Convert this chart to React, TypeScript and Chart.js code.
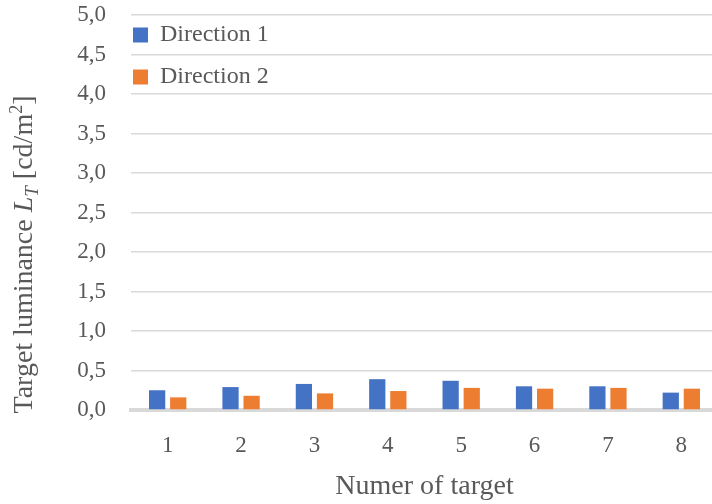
import { useEffect, useRef } from 'react';
import { Chart, registerables } from 'chart.js';

Chart.register(...registerables);

// Target numbers along the x axis
const categories = ['1', '2', '3', '4', '5', '6', '7', '8'];
// Target luminance per direction [cd/m²]
const direction1 = [0.25, 0.29, 0.33, 0.39, 0.37, 0.3, 0.3, 0.22];
const direction2 = [0.16, 0.18, 0.21, 0.24, 0.28, 0.27, 0.28, 0.27];
// Y tick labels (decimal comma)
const yTickLabels = ['0,0', '0,5', '1,0', '1,5', '2,0', '2,5', '3,0', '3,5', '4,0', '4,5', '5,0'];

const FONT = "'Liberation Serif', serif";
const TEXT = '#595959';
const GRID = '#D9D9D9';

// Pieces of the rotated y-axis title, with italic / sub / superscript styling
const yTitleParts = [
  { text: 'Target luminance ', italic: false, scale: 1, shift: 0 },
  { text: 'L', italic: true, scale: 1, shift: 0 },
  { text: 'T', italic: true, scale: 0.68, shift: 0.2 },
  { text: ' [cd/m', italic: false, scale: 1, shift: 0 },
  { text: '2', italic: false, scale: 0.66, shift: -0.36 },
  { text: ']', italic: false, scale: 1, shift: 0 },
];

const yTitlePlugin = {
  id: 'yTitle',
  afterDraw(chart: any) {
    const { ctx, chartArea } = chart;
    const size = 28;
    const fontOf = (p: any) => `${p.italic ? 'italic ' : ''}${Math.round(size * p.scale)}px ${FONT}`;
    let total = 0;
    ctx.save();
    for (const p of yTitleParts) {
      ctx.font = fontOf(p);
      total += ctx.measureText(p.text).width;
    }
    const cx = chartArea.left - 99;
    const cy = (chartArea.top + chartArea.bottom) / 2 + 42;
    ctx.translate(cx, cy);
    ctx.rotate(-Math.PI / 2);
    ctx.fillStyle = TEXT;
    ctx.textBaseline = 'alphabetic';
    ctx.textAlign = 'left';
    let x = -total / 2;
    for (const p of yTitleParts) {
      ctx.font = fontOf(p);
      ctx.fillText(p.text, x, p.shift * size);
      x += ctx.measureText(p.text).width;
    }
    ctx.restore();
  },
};

// Places the vertical legend in the upper-left corner of the plot area
const legendPlacePlugin = {
  id: 'legendPlace',
  afterLayout(chart: any) {
    const lg = chart.legend;
    const a = chart.chartArea;
    if (lg) {
      lg.left = a.left - 16;
      lg.top = a.top - 10;
    }
  },
};

export default function App() {
  const ref = useRef<HTMLCanvasElement | null>(null);

  useEffect(() => {
    if (!ref.current) return;
    const chart = new Chart(ref.current, {
      type: 'bar',
      data: {
        labels: categories,
        datasets: [
          {
            label: 'Direction 1',
            data: direction1,
            backgroundColor: '#4472C4',
            borderWidth: 0,
            categoryPercentage: 0.575,
            barPercentage: 0.77,
          },
          {
            label: 'Direction 2',
            data: direction2,
            backgroundColor: '#ED7D31',
            borderWidth: 0,
            categoryPercentage: 0.575,
            barPercentage: 0.77,
          },
        ],
      },
      options: {
        responsive: false,
        animation: false,
        layout: { padding: { top: 15, left: 0, right: 0, bottom: 0 } },
        plugins: {
          legend: {
            position: 'chartArea' as any,
            align: 'start',
            labels: {
              boxWidth: 15,
              boxHeight: 15,
              padding: 18,
              color: TEXT,
              font: { family: FONT, size: 24 },
            },
          },
          tooltip: { enabled: false },
          title: { display: false },
        },
        scales: {
          x: {
            grid: { display: false, drawTicks: false },
            border: { display: true, color: GRID, width: 4 },
            ticks: {
              color: TEXT,
              font: { family: FONT, size: 23 },
              padding: 22,
              maxRotation: 0,
            },
            title: {
              display: true,
              text: 'Numer of target',
              color: TEXT,
              font: { family: FONT, size: 28, lineHeight: 1.2 },
              padding: { top: 0, bottom: 1 },
            },
            afterFit: (scale: any) => {
              scale.height = 94;
              scale.paddingLeft = 0;
              scale.paddingRight = 0;
            },
          },
          y: {
            min: 0,
            max: 5,
            grid: { color: GRID, lineWidth: 1.5, drawTicks: false },
            border: { display: false },
            ticks: {
              stepSize: 0.5,
              color: TEXT,
              font: { family: FONT, size: 23 },
              padding: 25,
              callback: (_v: any, i: number) => yTickLabels[i],
            },
            afterFit: (scale: any) => {
              scale.width = 131;
              scale.paddingTop = 0;
              scale.paddingBottom = 0;
            },
          },
        },
      },
      plugins: [yTitlePlugin, legendPlacePlugin],
    });
    return () => chart.destroy();
  }, []);

  return (
    <div
      style={{
        position: 'fixed',
        left: 0,
        top: 0,
        width: 712,
        height: 504,
        overflow: 'hidden',
        background: '#fff',
      }}
    >
      <canvas ref={ref} width={718} height={504} style={{ display: 'block' }} />
    </div>
  );
}
